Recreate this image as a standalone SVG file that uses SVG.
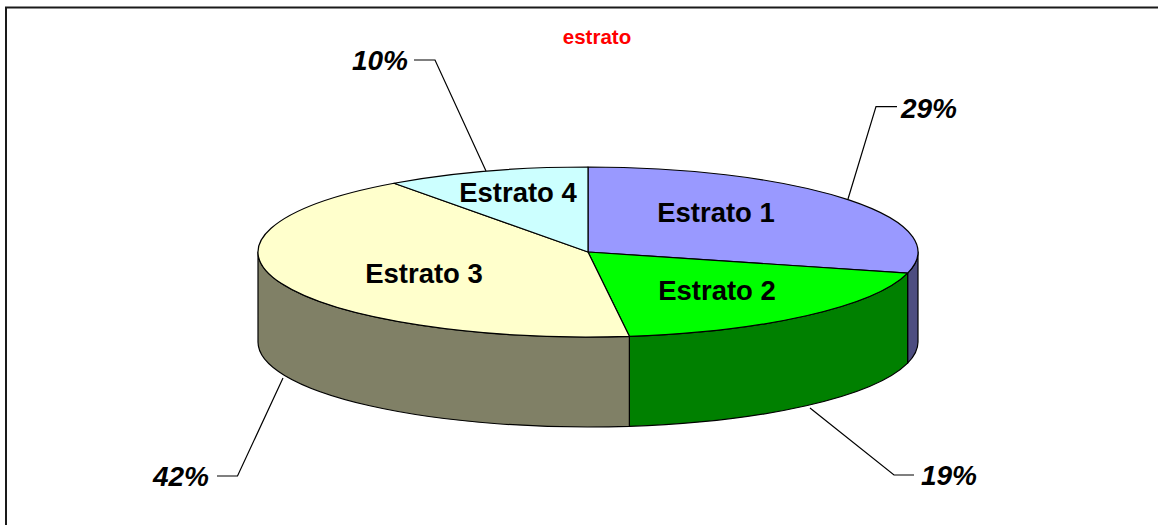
<svg xmlns="http://www.w3.org/2000/svg" width="1158" height="525" viewBox="0 0 1158 525">
<style>
.edge{stroke:#000;stroke-width:1.2;stroke-linejoin:round}
.lbl{font-family:"Liberation Sans",Arial,sans-serif;font-weight:bold;font-size:27.5px;fill:#000;text-anchor:middle}
.pct{font-family:"Liberation Sans",Arial,sans-serif;font-weight:bold;font-style:italic;font-size:28px;fill:#000;text-anchor:middle}
.lead{fill:none;stroke:#000;stroke-width:1.2}
</style>
<rect x="0" y="0" width="1158" height="525" fill="#fff"/>
<rect x="6" y="7.5" width="1160" height="530" fill="#fff" stroke="#1a1a1a" stroke-width="2"/>
<text x="597" y="43.5" font-family="Liberation Sans, Arial, sans-serif" font-weight="bold" font-size="20.5" fill="#ff0000" text-anchor="middle">estrato</text>
<g id="sides">
<path class="edge" fill="#4d4d80" d="M918,252 A330,85 0 0 1 907.63,273.14 L907.63,363.14 A330,85 0 0 0 918,342 Z"/>
<path class="edge" fill="#008000" d="M907.63,273.14 A330,85 0 0 1 629.36,336.33 L629.36,426.33 A330,85 0 0 0 907.63,363.14 Z"/>
<path class="edge" fill="#808066" d="M629.36,336.33 A330,85 0 0 1 258,252 L258,342 A330,85 0 0 0 629.36,426.33 Z"/>
</g>
<g id="estrato1">
<path class="edge" fill="#9999ff" d="M588,252 L588,167 A330,85 0 0 1 907.63,273.14 Z"/>
<text class="lbl" x="716" y="222">Estrato 1</text>
</g>
<g id="estrato2">
<path class="edge" fill="#00ff00" d="M588,252 L907.63,273.14 A330,85 0 0 1 629.36,336.33 Z"/>
<text class="lbl" x="717" y="300">Estrato 2</text>
</g>
<g id="estrato3">
<path class="edge" fill="#ffffcc" d="M588,252 L629.36,336.33 A330,85 0 0 1 394.03,183.23 Z"/>
<text class="lbl" x="424" y="283">Estrato 3</text>
</g>
<g id="estrato4">
<path class="edge" fill="#ccffff" d="M588,252 L394.03,183.23 A330,85 0 0 1 588,167 Z"/>
<text class="lbl" x="518" y="202">Estrato 4</text>
</g>
<g id="connectors">
<polyline class="lead" points="414,60 435,60 486,171"/>
<polyline class="lead" points="897,106.7 876,106.7 848,199"/>
<polyline class="lead" points="217,476 237.5,476 283,378"/>
<polyline class="lead" points="914,475 894,475 810,408"/>
</g>
<g id="pct-labels">
<text class="pct" x="380" y="70">10%</text>
<text class="pct" x="929" y="118">29%</text>
<text class="pct" x="181" y="486">42%</text>
<text class="pct" x="949" y="485">19%</text>
</g>
</svg>
